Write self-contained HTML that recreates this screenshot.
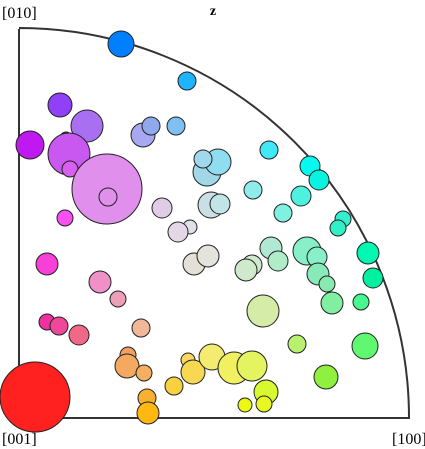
<!DOCTYPE html>
<html><head><meta charset="utf-8"><style>
html,body{margin:0;padding:0;background:#fff;}
svg{display:block;}
text{font-family:"Liberation Serif",serif;}
</style></head><body>
<svg id="chart" width="425" height="449" viewBox="0 0 425 449" xmlns="http://www.w3.org/2000/svg">
<text x="213" y="15" font-size="14" font-weight="bold" text-anchor="middle">z</text>
<path d="M19,29 L19,418 L409,418 A390,390 0 0 0 19,28" fill="none" stroke="#333" stroke-width="2"/>
<text x="2" y="18" font-size="16">[010]</text>
<text x="2" y="444" font-size="16">[001]</text>
<text x="392" y="444" font-size="16">[100]</text>
<g id="marks"></g>
</svg>
<script>
// orientation data in plot units (0..390 along [100] and [010])
const xs=[102,168,41,68,11,47,50,51,88,89,124,132,157,46,143,188,199,184,250,291,300,234,282,264,192,201,324,319,171,159,175,189,233,227,252,259,288,298,299,308,313,342,349,354,244,28,81,99,28,40,60,122,109,108,125,128,129,155,169,174,193,215,233,247,245,226,278,307,346,16];
const ys=[374,337,313,292,273,280,264,249,229,221,283,292,292,200,210,246,256,259,268,252,238,228,222,205,213,214,199,190,191,186,154,162,153,148,170,157,167,161,144,134,115,116,165,140,107,154,136,119,96,92,83,90,63,52,45,20,5,32,58,46,61,50,52,26,14,13,74,41,72,21];
const sizes=[13,9,12,16,14,6,21,8,35,9,12,9,9,8,10,14,13,9,9,10,10,9,10,9,13,10,8,8,7,10,11,11,10,11,11,10,14,10,11,8,11,8,11,10,16,11,11,8,8,9,10,9,8,12,8,9,11,9,7,12,13,16,15,12,8,7,9,12,13,35];
const colors=["#0080ff","#1eb4ff","#9040f8","#a870f0","#c018f0","#7020a0","#c858f0","#d860f0","#e090ec","#e090ec","#a8a8f0","#90a8ec","#80c0f0","#f850f0","#e0cce4","#a0d8e8","#90dcf0","#a0d8ec","#40e8f8","#00fcf0","#08f4e0","#90ecec","#50f0e0","#80f0e0","#c8e0e4","#c0e4e8","#30f0d0","#30f0c8","#e0e0e8","#e4d8e8","#e4e0d8","#e4e4dc","#d0e8cc","#d0e8cc","#b0e8d4","#b0ecc8","#88f0c8","#88f0c8","#88eab8","#88eab0","#80f0a0","#48f890","#00f8b0","#00f0a0","#d4eca8","#f840d8","#f090c8","#eca0b8","#f030a0","#f04898","#f06888","#f0b898","#f0a060","#f4a860","#f4b060","#f8b030","#ffb810","#f8d040","#f8d860","#f8d850","#f4ec70","#f0f060","#e4f460","#d8f830","#e8f820","#eef810","#b8f070","#90f040","#60f870","#ff2020"];
const X0=19,Y0=418,W=390;
function sx(v){return X0+v/390*W;}
function sy(v){return Y0-v/390*W;}
const g=document.getElementById('marks');
const NS="http://www.w3.org/2000/svg";
for(let i=0;i<xs.length;i++){
  const c=document.createElementNS(NS,'circle');
  c.setAttribute('cx',sx(xs[i]));
  c.setAttribute('cy',sy(ys[i]));
  c.setAttribute('r',sizes[i]);
  c.setAttribute('fill',colors[i]);
  c.setAttribute('stroke','#222');
  c.setAttribute('stroke-width','1');
  
  
  g.appendChild(c);
}
</script>
</body></html>
